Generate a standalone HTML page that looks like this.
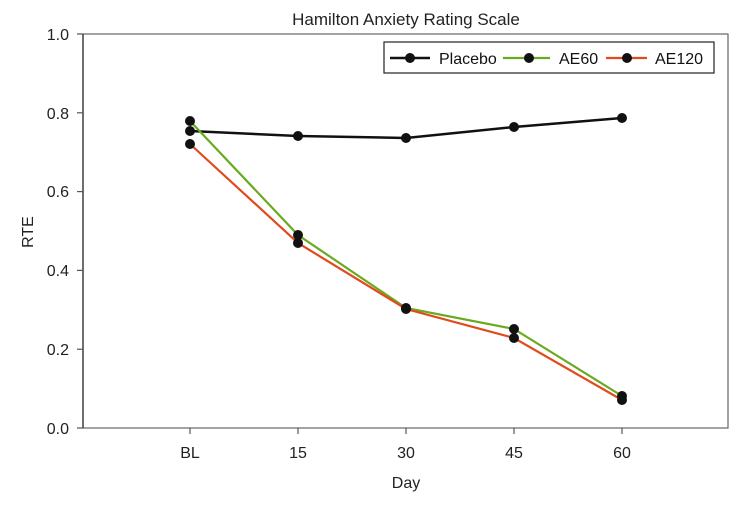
<!DOCTYPE html>
<html><head><style>body{margin:0;background:#fff}</style></head><body>
<svg width="748" height="500" xmlns="http://www.w3.org/2000/svg" font-family="Liberation Sans, sans-serif">
<rect width="748" height="500" fill="#fff"/>
<text x="406" y="25" font-size="17" text-anchor="middle" fill="#222">Hamilton Anxiety Rating Scale</text>
<rect x="83" y="34" width="645" height="394" fill="none" stroke="#666" stroke-width="1.2"/>
<line x1="83" x2="83" y1="34" y2="428" stroke="#222" stroke-width="1.2"/>
<g font-size="16" fill="#222" text-anchor="end">
<text x="69" y="434">0.0</text><text x="69" y="355">0.2</text><text x="69" y="276">0.4</text>
<text x="69" y="197">0.6</text><text x="69" y="119">0.8</text><text x="69" y="40">1.0</text>
</g>
<g stroke="#555" stroke-width="1.2"><line x1="83" x2="77" y1="428" y2="428"/><line x1="83" x2="77" y1="349.2" y2="349.2"/><line x1="83" x2="77" y1="270.4" y2="270.4"/><line x1="83" x2="77" y1="191.6" y2="191.6"/><line x1="83" x2="77" y1="112.8" y2="112.8"/><line x1="83" x2="77" y1="34" y2="34"/>
<line x1="190" x2="190" y1="428" y2="434"/><line x1="298" x2="298" y1="428" y2="434"/><line x1="406" x2="406" y1="428" y2="434"/><line x1="514" x2="514" y1="428" y2="434"/><line x1="622" x2="622" y1="428" y2="434"/></g>
<g font-size="16" fill="#222" text-anchor="middle">
<text x="190" y="458">BL</text><text x="298" y="458">15</text><text x="406" y="458">30</text><text x="514" y="458">45</text><text x="622" y="458">60</text>
<text x="406" y="488">Day</text>
<text transform="translate(33,232) rotate(-90)">RTE</text>
</g>
<polyline points="190,131 298,136 406,138 514,127 622,118" fill="none" stroke="#111" stroke-width="2.5"/>
<polyline points="190,121 298,235 406,308 514,329 622,396" fill="none" stroke="#6aaa1e" stroke-width="2.2"/>
<polyline points="190,144 298,243 406,309 514,338 622,400" fill="none" stroke="#e04a1c" stroke-width="2.2"/>
<g fill="#111">
<circle cx="190" cy="131" r="5"/><circle cx="298" cy="136" r="5"/><circle cx="406" cy="138" r="5"/><circle cx="514" cy="127" r="5"/><circle cx="622" cy="118" r="5"/>
<circle cx="190" cy="121" r="5"/><circle cx="298" cy="235" r="5"/><circle cx="406" cy="308" r="5"/><circle cx="514" cy="329" r="5"/><circle cx="622" cy="396" r="5"/>
<circle cx="190" cy="144" r="5"/><circle cx="298" cy="243" r="5"/><circle cx="406" cy="309" r="5"/><circle cx="514" cy="338" r="5"/><circle cx="622" cy="400" r="5"/>
</g>
<rect x="384" y="42" width="330" height="31" fill="#fff" stroke="#222" stroke-width="1.2"/>
<line x1="390" x2="430" y1="58" y2="58" stroke="#111" stroke-width="2.5"/><circle cx="410" cy="58" r="5" fill="#111"/>
<text x="439" y="64" font-size="16" fill="#111">Placebo</text>
<line x1="503" x2="550" y1="58" y2="58" stroke="#6aaa1e" stroke-width="2.2"/><circle cx="529" cy="58" r="5" fill="#111"/>
<text x="559" y="64" font-size="16" fill="#111">AE60</text>
<line x1="606" x2="647" y1="58" y2="58" stroke="#e04a1c" stroke-width="2.2"/><circle cx="627" cy="58" r="5" fill="#111"/>
<text x="655" y="64" font-size="16" fill="#111">AE120</text>
</svg>
</body></html>
